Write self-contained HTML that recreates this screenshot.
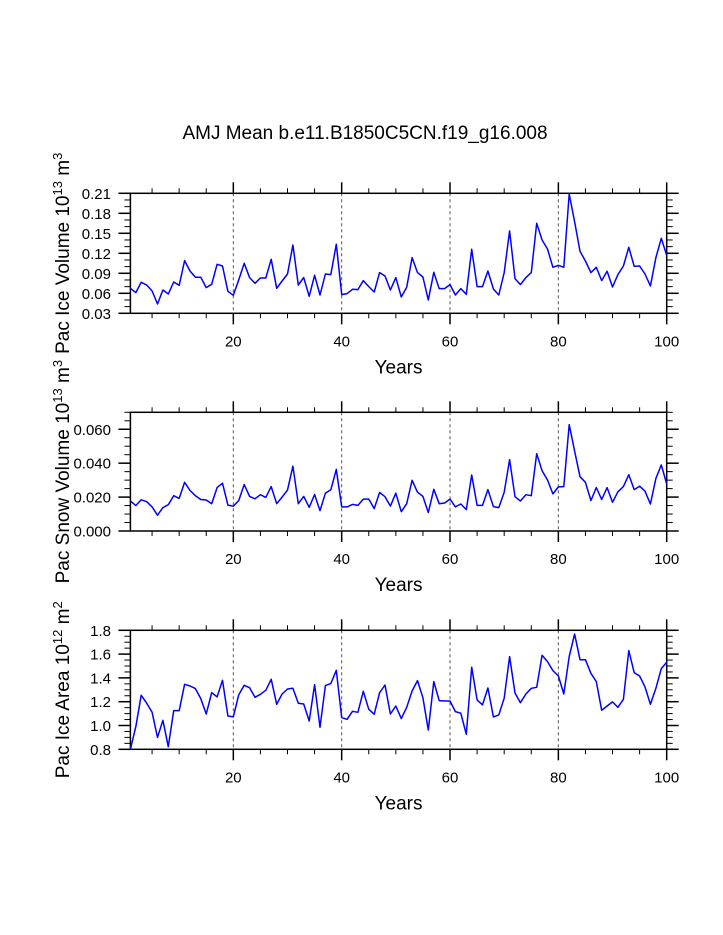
<!DOCTYPE html>
<html><head><meta charset="utf-8">
<style>
html,body{margin:0;padding:0;background:#fff;}
svg{display:block;font-family:"Liberation Sans",Arial,sans-serif;}
</style></head>
<body>
<svg id="chart" width="723" height="935" viewBox="0 0 723 935" xmlns="http://www.w3.org/2000/svg">
<rect x="0" y="0" width="723" height="935" fill="#fff"/>
<text x="365" y="139" font-size="19" text-anchor="middle" fill="#000">AMJ Mean b.e11.B1850C5CN.f19_g16.008</text>
</svg>
<script>
const years = Array.from({length:100},(_, i)=>i+1);
const iceVolume = [0.0675,0.061,0.0765,0.0725,0.0635,0.044,0.065,0.059,0.077,0.072,0.109,0.0935,0.084,0.084,0.0685,0.0735,0.1035,0.101,0.063,0.057,0.08,0.105,0.0835,0.075,0.083,0.083,0.111,0.0675,0.0785,0.089,0.1325,0.0725,0.0835,0.0555,0.087,0.0575,0.089,0.088,0.1335,0.058,0.0595,0.066,0.0655,0.079,0.07,0.062,0.091,0.086,0.065,0.0835,0.0545,0.069,0.1135,0.091,0.0845,0.05,0.0915,0.067,0.067,0.073,0.0575,0.067,0.0585,0.126,0.07,0.07,0.0935,0.0665,0.0575,0.091,0.1535,0.082,0.073,0.0835,0.091,0.165,0.14,0.1265,0.099,0.102,0.099,0.209,0.1675,0.123,0.1085,0.091,0.099,0.079,0.093,0.0695,0.088,0.101,0.129,0.1005,0.101,0.089,0.071,0.1135,0.1425,0.117];
const snowVolume = [0.0177,0.015,0.0184,0.0173,0.0142,0.0093,0.0138,0.0155,0.0208,0.0192,0.0287,0.0239,0.0208,0.0186,0.0183,0.0161,0.0256,0.0282,0.0153,0.0146,0.0179,0.0274,0.0204,0.019,0.0214,0.0198,0.0262,0.0161,0.02,0.0241,0.0382,0.0161,0.0204,0.014,0.0215,0.012,0.0223,0.0243,0.0363,0.0142,0.0142,0.0157,0.0151,0.0188,0.0188,0.0132,0.0227,0.0202,0.0147,0.0223,0.0114,0.0161,0.0299,0.0229,0.0204,0.0109,0.0246,0.0161,0.0165,0.0188,0.0142,0.0159,0.0126,0.033,0.0151,0.0151,0.0244,0.0144,0.0138,0.0229,0.0421,0.0202,0.0177,0.0214,0.0208,0.0456,0.0355,0.0301,0.0219,0.026,0.0262,0.0627,0.0472,0.032,0.0287,0.018,0.0256,0.0186,0.0256,0.0169,0.0231,0.0262,0.0332,0.0244,0.0264,0.0235,0.0159,0.031,0.039,0.0277];
const iceArea = [0.80,0.99,1.254,1.187,1.111,0.90,1.044,0.822,1.125,1.125,1.346,1.332,1.31,1.226,1.097,1.276,1.24,1.38,1.08,1.072,1.257,1.338,1.318,1.237,1.262,1.296,1.388,1.178,1.265,1.307,1.313,1.187,1.181,1.038,1.343,0.985,1.335,1.352,1.464,1.066,1.052,1.119,1.111,1.287,1.136,1.094,1.276,1.34,1.097,1.164,1.058,1.153,1.29,1.377,1.234,0.962,1.369,1.209,1.206,1.206,1.117,1.103,0.926,1.489,1.215,1.173,1.315,1.072,1.089,1.229,1.579,1.273,1.192,1.265,1.313,1.321,1.59,1.537,1.461,1.416,1.265,1.579,1.769,1.553,1.553,1.439,1.369,1.128,1.164,1.198,1.153,1.22,1.629,1.444,1.416,1.324,1.178,1.313,1.478,1.531];
const xTicks = [20,40,60,80,100];
const yTicks1 = ["0.03","0.06","0.09","0.12","0.15","0.18","0.21"];
const yTicks2 = ["0.000","0.020","0.040","0.060"];
const yTicks3 = ["0.8","1.0","1.2","1.4","1.6","1.8"];

const NS="http://www.w3.org/2000/svg";
const svg=document.getElementById('chart');
const X0=130.4,X1=666.7;
function xs(v){return X0+(v-1)*(X1-X0)/99;}
function mk(tag,attrs,parent){const e=document.createElementNS(NS,tag);for(const k in attrs)e.setAttribute(k,attrs[k]);(parent||svg).appendChild(e);return e;}

function panel(id,top,bot,ymin,ymax,yLabels,minorStep,data,titleMain,sup1,sup2,unit){
  const g=mk('g',{});
  
  
  const ys=v=>bot-(v-ymin)/(ymax-ymin)*(bot-top);
  [20,40,60,80].forEach(v=>{
    const l=mk('line',{x1:xs(v),x2:xs(v),y1:top,y2:bot,stroke:'#555','stroke-width':1,'stroke-dasharray':'3,3'},g);
    
    
  });
  for(let v=5;v<=100;v+=5){
    const major=v%20===0;const len=major?11:5;const x=xs(v);
    mk('line',{x1:x,x2:x,y1:bot,y2:bot+len,stroke:'#000','stroke-width':major?1.5:1},g);
    mk('line',{x1:x,x2:x,y1:top,y2:top-len,stroke:'#000','stroke-width':major?1.5:1},g);
  }
  xTicks.forEach(v=>{
    const t=mk('text',{x:xs(v),y:bot+33,'font-size':15,'text-anchor':'middle'},g);
    t.textContent=v;
    
    
  });
  for(let v=ymin;v<=ymax+1e-9;v+=minorStep){
    const y=ys(v);
    mk('line',{x1:X0-6,x2:X0,y1:y,y2:y,stroke:'#000','stroke-width':1},g);
    mk('line',{x1:X1,x2:X1+6,y1:y,y2:y,stroke:'#000','stroke-width':1},g);
  }
  yLabels.forEach(s=>{
    const y=ys(parseFloat(s));
    mk('line',{x1:X0-12,x2:X0,y1:y,y2:y,stroke:'#000','stroke-width':1.5},g);
    mk('line',{x1:X1,x2:X1+12,y1:y,y2:y,stroke:'#000','stroke-width':1.5},g);
    const t=mk('text',{x:111,y:y+5.5,'font-size':15,'text-anchor':'end'},g);
    t.textContent=s;
    
    
  });
  const r=mk('rect',{x:X0,y:top,width:X1-X0,height:bot-top,fill:'none',stroke:'#000','stroke-width':1.5},g);
  
  
  const pts=data.map((v,i)=>xs(years[i]).toFixed(1)+','+ys(v).toFixed(1)).join(' ');
  const pl=mk('polyline',{points:pts,fill:'none',stroke:'#0000ff','stroke-width':1.5,'stroke-linejoin':'round'},g);
  
  
  const xt=mk('text',{x:(X0+X1)/2,y:bot+60,'font-size':19,'text-anchor':'middle'},g);
  xt.textContent='Years';
  
  
  const mid=(top+bot)/2;
  const yt=mk('text',{x:0,y:0,'font-size':19,'text-anchor':'middle',transform:'translate(69,'+mid+') rotate(-90)'},g);
  
  
  const a=mk('tspan',{},yt);a.textContent=titleMain+' 10';
  const b=mk('tspan',{dy:-7,'font-size':13},yt);b.textContent=sup1;
  const c=mk('tspan',{dy:7},yt);c.textContent=' '+unit;
  const d=mk('tspan',{dy:-7,'font-size':13},yt);d.textContent=sup2;
}
panel('ice-volume',193.3,313.3,0.03,0.21,yTicks1,0.01,iceVolume,'Pac Ice Volume','13','3','m');
panel('snow-volume',412.3,531,0,0.07,yTicks2,0.005,snowVolume,'Pac Snow Volume','13','3','m');
panel('ice-area',630.3,749.3,0.8,1.8,yTicks3,0.05,iceArea,'Pac Ice Area','12','2','m');
</script>
</body></html>
